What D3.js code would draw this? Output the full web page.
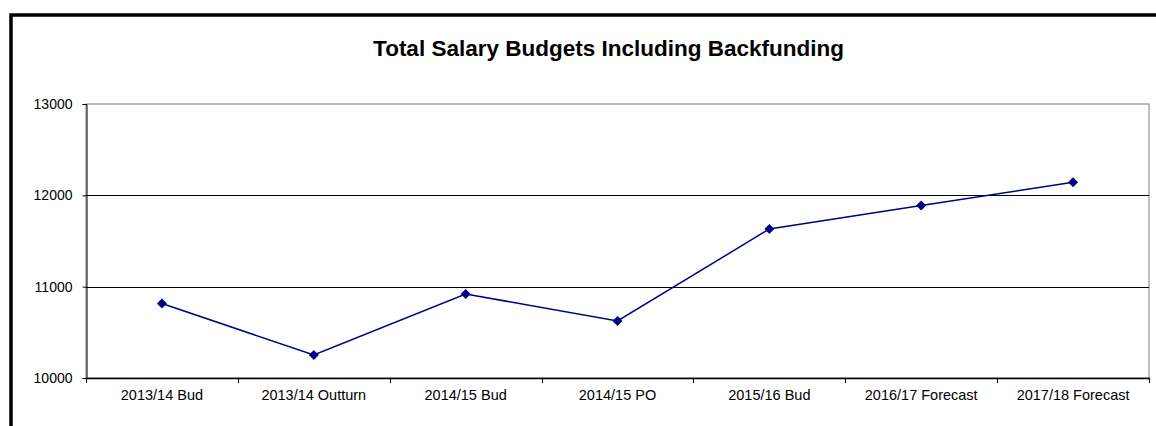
<!DOCTYPE html>
<html><head><meta charset="utf-8">
<script src="https://cdn.jsdelivr.net/npm/d3@7"></script>
<style>body{margin:0;background:#fff}svg{display:block;font-family:Arial,"Liberation Sans",sans-serif}</style>
</head><body><svg id="c" width="1156" height="426"></svg>
<script>
const categories = ["2013/14 Bud","2013/14 Outturn","2014/15 Bud","2014/15 PO","2015/16 Bud","2016/17 Forecast","2017/18 Forecast"];
const values = [10815, 10252, 10920, 10624, 11632, 11889, 12143];
const yTicks = [10000, 11000, 12000, 13000];
const title = "Total Salary Budgets Including Backfunding";

const svg = d3.select("#c");
// outer frame
svg.append("rect").attr("x",11).attr("y",15).attr("width",1160).attr("height",440)
  .attr("fill","#fff").attr("stroke","#000").attr("stroke-width",3.5);

const L=86, R=1149, T=104, B=378;
const x = d3.scaleBand().domain(categories).range([L,R]);
const y = d3.scaleLinear().domain([10000,13000]).range([B,T]);

// plot border (gray)
svg.append("rect").attr("x",L).attr("y",T).attr("width",R-L).attr("height",B-T)
  .attr("fill","none").attr("stroke","#808080").attr("stroke-width",1);

// gridlines
svg.append("g").selectAll("line").data(yTicks.slice(1,3)).join("line")
  .attr("x1",L).attr("x2",R).attr("y1",d=>Math.round(y(d))+0.5).attr("y2",d=>Math.round(y(d))+0.5)
  .attr("stroke","#000").attr("stroke-width",1);

// y axis
const yAxis = svg.append("g").attr("transform",`translate(${L+0.5},0)`)
  .call(d3.axisLeft(y).tickValues(yTicks).tickSize(4).tickPadding(10).tickFormat(d3.format("d")));
yAxis.select(".domain").attr("stroke","#000");
yAxis.selectAll("text").attr("font-size",14).attr("fill","#000").attr("font-family","Arial, 'Liberation Sans', sans-serif");

// x axis line + ticks at band boundaries
const xg = svg.append("g");
xg.append("line").attr("x1",L).attr("x2",R+1).attr("y1",B+0.5).attr("y2",B+0.5).attr("stroke","#000").attr("stroke-width",1.5);
const bounds = categories.map(c=>x(c)).concat([R]);
xg.selectAll("line.t").data(bounds).join("line").attr("class","t")
  .attr("x1",d=>Math.round(d)+0.5).attr("x2",d=>Math.round(d)+0.5).attr("y1",B).attr("y2",B+5).attr("stroke","#000");
xg.selectAll("text").data(categories).join("text")
  .attr("x",d=>x(d)+x.bandwidth()/2).attr("y",400)
  .attr("text-anchor","middle").attr("font-size",14.5).attr("fill","#000").text(d=>d);

// line
const pts = categories.map((c,i)=>[x(c)+x.bandwidth()/2, y(values[i])]);
svg.append("path").attr("d",d3.line()(pts)).attr("fill","none").attr("stroke","#000080").attr("stroke-width",1.5);
svg.append("g").selectAll("path").data(pts).join("path")
  .attr("transform",d=>`translate(${d[0]},${d[1]})`)
  .attr("d","M0,-5L5,0L0,5L-5,0Z").attr("fill","#000080");

// title
svg.append("text").attr("x",608.5).attr("y",55.5).attr("text-anchor","middle")
  .attr("font-size",22.5).attr("font-weight","bold").attr("fill","#000").text(title);
</script></body></html>
